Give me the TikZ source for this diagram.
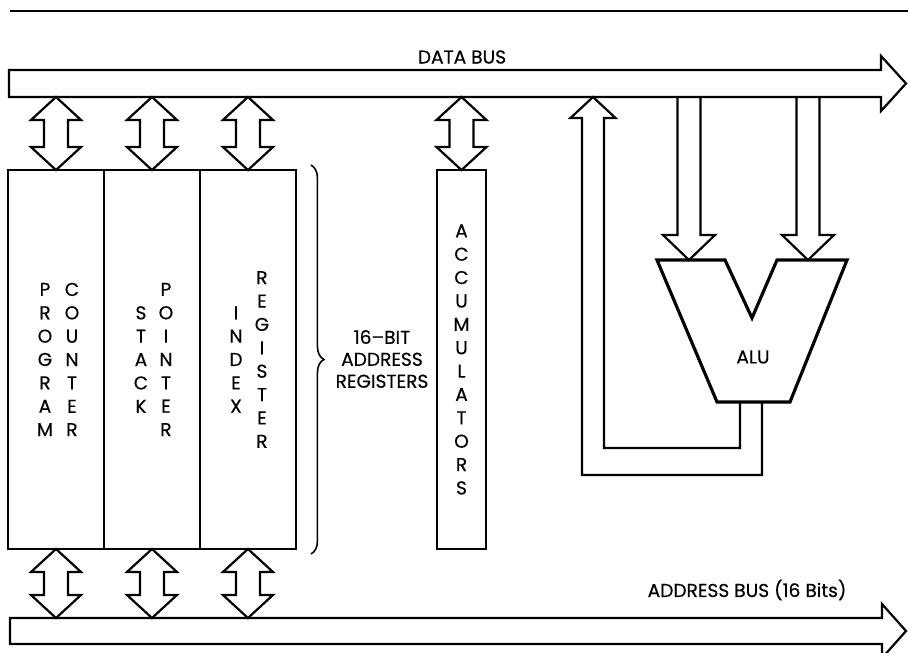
\documentclass[tikz,border=0pt]{standalone}
\usepackage{fontspec}
\setmainfont{Poppins}[FakeBold=0.4]
\usetikzlibrary{calc, positioning, decorations.pathreplacing}

\begin{document}
\begin{tikzpicture}[
  x=0.02cm, y=-0.02cm,
  line width=1.25pt,
  every node/.style={font=\fontsize{10.6}{13.3}\selectfont},
  reg/.style={rectangle, draw, line width=1.25pt, outer sep=0pt, inner sep=0pt, minimum width=1.92cm, minimum height=7.58cm, align=center},
  letters/.style={align=center, inner sep=0pt},
  busio/.style={to path={let \p1=(\tikztostart), \p2=(\tikztotarget) in
    -- (\x1+0.5cm,\y1-0.46cm) -- (\x1+0.24cm,\y1-0.46cm) -- (\x1+0.24cm,\y2+0.46cm)
    -- (\x1+0.5cm,\y2+0.46cm) -- (\x2,\y2) -- (\x1-0.5cm,\y2+0.46cm)
    -- (\x1-0.24cm,\y2+0.46cm) -- (\x1-0.24cm,\y1-0.46cm) -- (\x1-0.5cm,\y1-0.46cm) -- cycle}},
  aluin/.style={to path={let \p1=(\tikztostart), \p2=(\tikztotarget) in
    (\x1-0.23cm,\y1) -- (\x1-0.23cm,\y2+0.5cm) -- (\x1-0.52cm,\y2+0.5cm) -- (\x2,\y2)
    -- (\x1+0.52cm,\y2+0.5cm) -- (\x1+0.23cm,\y2+0.5cm) -- (\x1+0.23cm,\y1)}}
]
\useasboundingbox (0,0) rectangle (908,652);

% Page rule at the top.
\draw (10,11) -- (908,11);

% Buses.
\draw (9,70) -- (881,70) -- (881,56) -- (906,83.5) -- (881,111) -- (881,97) -- (9,97) -- cycle;
\draw (10,618) -- (882,618) -- (882,604) -- (906,631) -- (882,658) -- (882,644) -- (10,644) -- cycle;
\coordinate (DataBusLow) at (0,97);
\coordinate (AddrBusHigh) at (0,618);
\node (DataBusLabel) at (462,57) {DATA BUS};
\node (AddrBusLabel) at (747,590) {ADDRESS BUS (16 Bits)};

% Address registers.
\node[reg] (ProgCounter) at (56,359.5) {};
\node[reg, right=0pt of ProgCounter] (StackPtr) {};
\node[reg, right=0pt of StackPtr] (IndexReg) {};
\node[letters] (ProgWord) at ([xshift=-0.22cm]ProgCounter.center) {P\\R\\O\\G\\R\\A\\M};
\node[letters] (CounterWord) at ([xshift=0.32cm]ProgCounter.center) {C\\O\\U\\N\\T\\E\\R};
\node[letters] (StackWord) at ([xshift=-0.22cm]StackPtr.center) {S\\T\\A\\C\\K};
\node[letters] (PointerWord) at ([xshift=0.28cm]StackPtr.center) {P\\O\\I\\N\\T\\E\\R};
\node[letters] (IndexWord) at ([xshift=-0.24cm]IndexReg.center) {I\\N\\D\\E\\X};
\node[letters] (RegisterWord) at ([xshift=0.28cm]IndexReg.center) {R\\E\\G\\I\\S\\T\\E\\R};

% Brace and its label.
\draw[line width=0.9pt, decorate, decoration={brace, amplitude=0.26cm}]
  ([xshift=0.3cm, yshift=0.1cm]IndexReg.north east) -- ([xshift=0.3cm, yshift=-0.1cm]IndexReg.south east);
\node[align=center, font=\fontsize{10.6}{12.5}\selectfont] (AddrRegLabel) at (382,359) {16–BIT\\ADDRESS\\REGISTERS};

% Accumulators.
\node[reg, minimum width=0.98cm] (Accum) at (461.5,359.5) {A\\C\\C\\U\\M\\U\\L\\A\\T\\O\\R\\S};

% Bus connections.
\foreach \r in {ProgCounter, StackPtr, IndexReg, Accum}
  \draw (\r.north |- DataBusLow) to[busio] (\r.north);
\foreach \r in {ProgCounter, StackPtr, IndexReg}
  \draw (\r.south) to[busio] (\r.south |- AddrBusHigh);

% ALU with its inputs and feedback to the data bus.
\draw[line width=1.8pt] (657,260) -- (725,260) -- (752,318) -- (777,260) -- (847,260) -- (790,402) -- (717,402) -- cycle;
\node (ALU) at (753,357) {ALU};
\coordinate (ALUinA) at (689,260);
\coordinate (ALUinB) at (808,260);
\coordinate (ALUout) at (751,402);
\coordinate (FeedUp) at (593,97);
\draw (ALUinA |- DataBusLow) to[aluin] (ALUinA);
\draw (ALUinB |- DataBusLow) to[aluin] (ALUinB);
\draw let \p1=(ALUout), \p2=(FeedUp) in
  (\x1-0.22cm,\y1) -- (\x1-0.22cm,\y1-0.92cm) -- (\x2+0.22cm,\y1-0.92cm) -- (\x2+0.22cm,\y2-0.42cm)
  -- (\x2+0.45cm,\y2-0.42cm) -- (\x2,\y2) -- (\x2-0.45cm,\y2-0.42cm) -- (\x2-0.22cm,\y2-0.42cm)
  -- (\x2-0.22cm,\y1-1.46cm) -- (\x1+0.22cm,\y1-1.46cm) -- (\x1+0.22cm,\y1);

\end{tikzpicture}
\end{document}
